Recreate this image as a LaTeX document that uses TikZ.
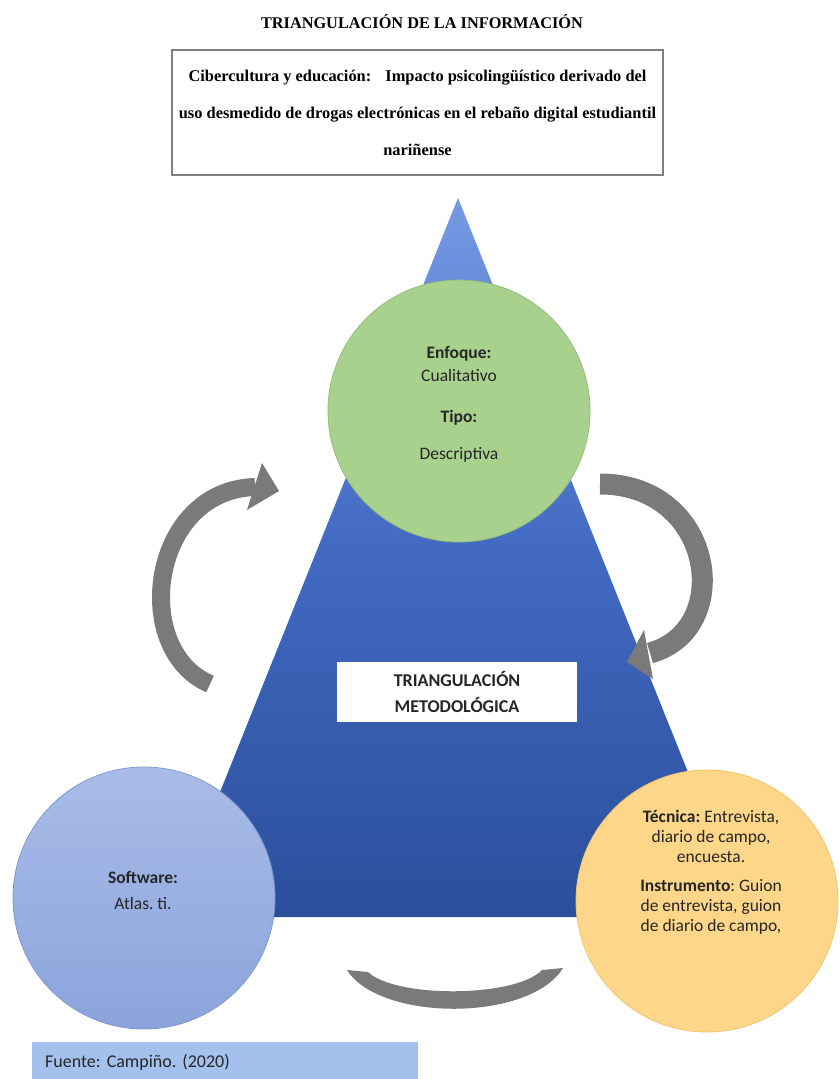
\documentclass[tikz,border=0pt]{standalone}
\usepackage{fontspec}
\setmainfont{Liberation Serif}
\newfontfamily\calfont{Carlito}
\frenchspacing
\definecolor{triTop}{HTML}{7699E3}
\definecolor{triMid}{HTML}{4169C0}
\definecolor{triBot}{HTML}{2C4F9C}
\definecolor{greenC}{HTML}{A9D18E}
\definecolor{greenB}{HTML}{94BC78}
\definecolor{blueTop}{HTML}{A9BCE8}
\definecolor{blueBot}{HTML}{8AA4DB}
\definecolor{blueB}{HTML}{7F99D0}
\definecolor{orangeC}{HTML}{FDD68A}
\definecolor{orangeB}{HTML}{F2C56E}
\definecolor{arrowgray}{HTML}{7A7A7A}
\definecolor{boxgray}{HTML}{7F7F7F}
\definecolor{fuenteblue}{HTML}{A3C1EC}
\definecolor{txt}{HTML}{262626}
\tikzset{
  bigcircle/.style={circle, minimum size=262pt, inner sep=0pt, line width=0.8pt},
  ctext/.style={font=\calfont\fontsize{17.5}{20}\selectfont, text=txt, align=center, inner sep=0pt},
  shaft/.style={draw=arrowgray, line width=18pt},
  headtip/.style={fill=arrowgray}
}
\begin{document}
\frenchspacing
\begin{tikzpicture}[x=1pt,y=-1pt]
\useasboundingbox (0,0) rectangle (839,1079);
\fill[white] (0,0) rectangle (839,1079);

% title
\node[font=\bfseries\fontsize{16.3}{19}\selectfont] (title) at (422,22) {TRIANGULACIÓN DE LA INFORMACIÓN};

% topic box
\node[draw=boxgray, line width=1.5pt, minimum width=491pt, minimum height=125pt, align=center,
      font=\bfseries\fontsize{16.4}{37}\selectfont] (topic) at (417.5,112.5)
  {Cibercultura y educación:\hspace{10pt} Impacto psicolingüístico derivado del\\
   uso desmedido de drogas electrónicas en el rebaño digital estudiantil\\
   nariñense};

% triangle
\shade[top color=triTop, bottom color=triBot, middle color=triMid] (458,198) -- (746,917) -- (170,917) -- cycle;

% circles
\node[bigcircle, fill=greenC, draw=greenB] (enfoque) at (459,411) {};
\node[bigcircle, top color=blueTop, bottom color=blueBot, draw=blueB] (software) at (144,898) {};
\node[bigcircle, fill=orangeC, draw=orangeB] (tecnica) at (707,901) {};

% circle texts
\node[ctext] (enfoqueT) at (459,404) {\textbf{Enfoque:}\\[3pt] Cualitativo\\[21pt] \textbf{Tipo:}\\[17pt] Descriptiva};
\node[ctext] (softwareT) at (143,890) {\textbf{Software:}\\[6pt] Atlas. ti.};
\node[ctext] (tecnicaT) at (711,872) {\textbf{Técnica:} Entrevista,\\ diario de campo,\\ encuesta.\\[9pt]
  \textbf{Instrumento}: Guion\\ de entrevista, guion\\ de diario de campo,};

% central label
\node[fill=white, minimum width=240pt, minimum height=60pt, inner sep=0pt, align=center, text=txt,
      font=\calfont\bfseries\fontsize{18}{26}\selectfont] (metod) at (457,692) {TRIANGULACIÓN\\METODOLÓGICA};

% left curved arrow (software -> enfoque)
\coordinate (lTail) at (210,684);
\coordinate (lHead) at (255,487);
\draw[shaft] (lTail) .. controls (130,650) and (150,490) .. (lHead);
\fill[headtip] (279,491) -- (262,463) -- (247,510) -- cycle;

% right curved arrow (enfoque -> tecnica)
\coordinate (rTail) at (600,484);
\coordinate (rHead) at (650,653);
\draw[draw=arrowgray, line width=21pt] (rTail) .. controls (715,484) and (735,630) .. (rHead);
\fill[headtip] (627,662) -- (644,630) -- (653,679) -- cycle;

% bottom arc (tecnica -- software)
\coordinate (bL) at (347,970);
\coordinate (bR) at (563,968);
\fill[arrowgray] (bL) .. controls (380,1022) and (530,1022) .. (bR)
  -- (542,970) .. controls (515,998) and (395,998) .. (368,972) -- cycle;

% source
\node[fill=fuenteblue, anchor=north west, minimum width=380pt, minimum height=40pt, text width=360pt,
      inner xsep=13pt, inner ysep=0pt, align=left, text=txt,
      font=\calfont\fontsize{18}{20}\selectfont] (fuente) at (32,1042) {Fuente: Campiño. (2020)};
\end{tikzpicture}
\end{document}
